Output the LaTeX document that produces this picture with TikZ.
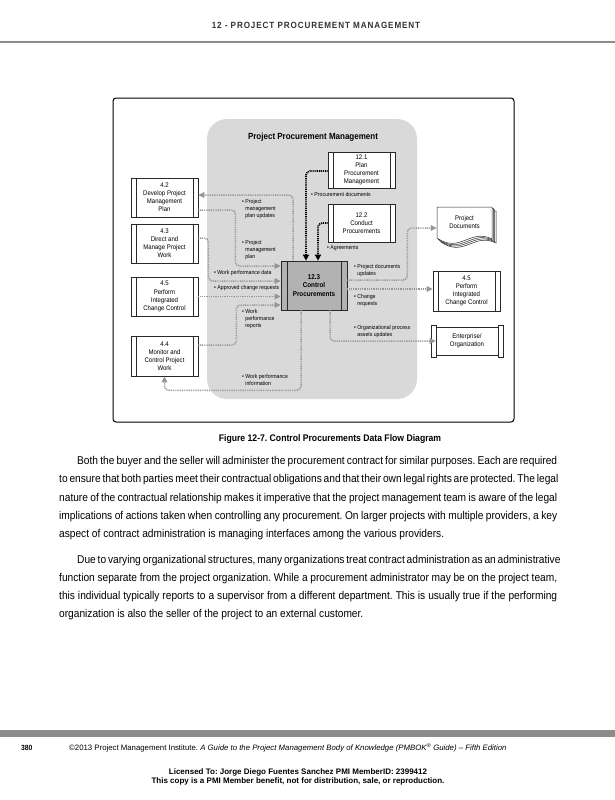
\documentclass[tikz,border=0pt]{standalone}
\usepackage{fontspec}
\setmainfont{Liberation Sans}[FakeStretch=0.9]
\newfontfamily\arialfont{Liberation Sans}
\usetikzlibrary{arrows.meta}
\definecolor{regionfill}{RGB}{217,217,217}
\definecolor{corefill}{RGB}{178,178,178}
\definecolor{flowgray}{RGB}{150,150,150}
\definecolor{boxline}{RGB}{40,40,40}
\definecolor{hdrgray}{RGB}{50,50,50}
\definecolor{bandgray}{RGB}{140,140,140}
\frenchspacing
\begin{document}
\begin{tikzpicture}[x=1pt,y=-1pt,
  sidegap/.store in=\sidegap, sidegap=5pt,
  procbox/.style={draw=boxline, line width=0.7pt, fill=white, minimum width=67pt,
    minimum height=39pt, inner sep=0pt, align=center, font=\fontsize{6.7}{8.1}\selectfont,
    path picture={\draw[boxline, line width=0.5pt]
      ([xshift=\sidegap]path picture bounding box.north west) -- ([xshift=\sidegap]path picture bounding box.south west)
      ([xshift=-\sidegap]path picture bounding box.north east) -- ([xshift=-\sidegap]path picture bounding box.south east);}},
  flowg/.style={draw=flowgray, line width=1.5pt, dash pattern=on 0.9pt off 0.9pt,
    rounded corners=4pt, -{Triangle[length=6pt,width=5.5pt]}},
  flowk/.style={draw=black, line width=1.7pt, dash pattern=on 1pt off 0.9pt,
    rounded corners=4pt, -{Triangle[length=6pt,width=6pt]}},
  lbl/.style={font=\fontsize{5.75}{7.3}\selectfont, align=left, inner sep=0pt, anchor=north west},
  pagepart/.style={boxline, line width=0.5pt, fill=white}
]
\useasboundingbox (0,0) rectangle (615,800);
\fill[white] (0,0) rectangle (615,800);

% header
\node[anchor=base, inner sep=0pt, text=hdrgray,
  font=\bfseries\fontsize{9}{11}\selectfont\addfontfeature{LetterSpace=10}] (hdr) at (316,28.5)
  {12 - PROJECT PROCUREMENT MANAGEMENT};
\fill[bandgray] (0,41) rectangle (615,43.5);

% frame and region
\draw[line width=1pt, rounded corners=3pt] (113,98) rectangle (514,422);
\fill[regionfill, rounded corners=20pt] (207,119) rectangle (417,399);
\node[font=\bfseries\fontsize{8.9}{10}\selectfont, inner sep=0pt] (ttl) at (313,137) {Project Procurement Management};

% process boxes
\node[procbox] (b42) at (164.5,197.5) {4.2\\Develop Project\\Management\\Plan};
\node[procbox] (b43) at (164.5,243.5) {4.3\\Direct and\\Manage Project\\Work};
\node[procbox] (b45l) at (164.5,296.5) {4.5\\Perform\\Integrated\\Change Control};
\node[procbox, minimum height=40pt] (b44) at (164.5,356) {4.4\\Monitor and\\Control Project\\Work};
\node[procbox, minimum height=36pt, font=\fontsize{6.7}{7.9}\selectfont] (b121) at (361.5,170) {12.1\\Plan\\Procurement\\Management};
\node[procbox, minimum height=38pt] (b122) at (361.5,223) {12.2\\Conduct\\Procurements};
\node[procbox, sidegap=6pt, fill=corefill, minimum width=66pt, minimum height=49pt,
  font=\bfseries\fontsize{7}{8.2}\selectfont] (b123) at (314,285.5) {12.3\\Control\\Procurements};
\node[procbox, minimum height=40pt] (b45r) at (466.5,291) {4.5\\Perform\\Integrated\\Change Control};

% project documents (stack of pages)
\foreach \o in {4,2.7,1.4,0} {
  \draw[pagepart, shift={(\o,\o)}] (437,207) -- (492,207) -- (492,239)
    .. controls (470,228) and (460,254) .. (437,238) -- cycle;
}
\node[font=\fontsize{6.7}{8.1}\selectfont, align=center, minimum width=55pt,
  minimum height=31pt, inner sep=0pt] (docs) at (464.5,222.5) {Project\\Documents};

% enterprise / organization
\draw[pagepart, line width=0.6pt] (431,325) rectangle (436,357);
\draw[pagepart, line width=0.6pt] (498,325) rectangle (503,357);
\node[draw=boxline, line width=0.6pt, fill=white, minimum width=62pt, minimum height=28pt,
  inner sep=0pt, align=center, font=\fontsize{6.7}{8.1}\selectfont] (ent) at (467,341)
  {Enterprise/\\Organization};

% connectors
\draw[flowg] ([xshift=-21pt]b123.north) |- ([yshift=2.5pt]b42.east);
\draw[flowg] ([yshift=-12.5pt]b42.east) -- ++(37,0) |- ([yshift=19.5pt]b123.west);
\draw[flowg] ([yshift=5.5pt]b43.east) -- ++(10,0) |- ([yshift=4.5pt]b123.west);
\draw[flowg] (b45l.east) -- (b45l.east -| b123.west);
\draw[flowg] ([yshift=11pt]b44.east) -- ++(38,0) |- ([yshift=-19.5pt]b123.west);
\draw[flowg] ([xshift=-13pt]b123.south) -- ++(0,80) -| (b44.south);
\draw[flowk] ([yshift=-1pt]b121.west) -| ([xshift=-8pt]b123.north);
\draw[flowk] (b122.west) -| ([xshift=4pt]b123.north);
\draw[flowg] ([yshift=5.5pt]b123.east) -- ++(60,0) |- ([yshift=-5.5pt]docs.west);
\draw[flowg] ([yshift=-3.5pt]b123.east) -- ([yshift=-3.5pt]b123.east -| b45r.west);
\draw[flowg] ([xshift=16pt]b123.south) |- (ent.west);

% labels
\node[lbl] (l1) at (242,199) {\textbullet\ Project\\\hphantom{\textbullet\ }management\\\hphantom{\textbullet\ }plan updates};
\node[lbl] (l2) at (242,240) {\textbullet\ Project\\\hphantom{\textbullet\ }management\\\hphantom{\textbullet\ }plan};
\node[lbl] (l3) at (214,270) {\textbullet\ Work performance data};
\node[lbl] (l4) at (214,285) {\textbullet\ Approved change requests};
\node[lbl] (l5) at (242,309) {\textbullet\ Work\\\hphantom{\textbullet\ }performance\\\hphantom{\textbullet\ }reports};
\node[lbl] (l6) at (242,374) {\textbullet\ Work performance\\\hphantom{\textbullet\ }information};
\node[lbl] (l7) at (311,192) {\textbullet\ Procurement documents};
\node[lbl] (l8) at (327,245) {\textbullet\ Agreements};
\node[lbl] (l9) at (354,264) {\textbullet\ Project documents\\\hphantom{\textbullet\ }updates};
\node[lbl] (l10) at (354,294) {\textbullet\ Change\\\hphantom{\textbullet\ }requests};
\node[lbl] (l11) at (354,325) {\textbullet\ Organizational process\\\hphantom{\textbullet\ }assets updates};

% caption and body text
\node[anchor=base, inner sep=0pt, font=\bfseries\fontsize{9.6}{12}\selectfont] (cap) at (330,441.5)
  {Figure 12-7. Control Procurements Data Flow Diagram};
\node[anchor=base west, inner sep=0pt, font=\fontsize{11.3}{18.25}\selectfont] (para1) at (59,464.5)
  {\vtop{\baselineskip=18.25pt
   \hbox to 498pt{\hspace*{18pt}Both the buyer and the seller will administer the procurement contract for similar purposes. Each are required}
   \hbox to 498pt{to ensure that both parties meet their contractual obligations and that their own legal rights are protected. The legal}
   \hbox to 498pt{nature of the contractual relationship makes it imperative that the project management team is aware of the legal}
   \hbox to 498pt{implications of actions taken when controlling any procurement. On larger projects with multiple providers, a key}
   \hbox{aspect of contract administration is managing interfaces among the various providers.}}};
\node[anchor=base west, inner sep=0pt, font=\fontsize{11.3}{18}\selectfont] (para2) at (59,563.5)
  {\vtop{\baselineskip=18pt
   \hbox to 498pt{\hspace*{18pt}Due to varying organizational structures, many organizations treat contract administration as an administrative}
   \hbox to 498pt{function separate from the project organization. While a procurement administrator may be on the project team,}
   \hbox to 498pt{this individual typically reports to a supervisor from a different department. This is usually true if the performing}
   \hbox{organization is also the seller of the project to an external customer.}}};

% footer
\fill[bandgray] (0,730) rectangle (615,737);
\node[anchor=base west, inner sep=0pt, font=\bfseries\fontsize{7.5}{9}\selectfont] (pgno) at (21,750) {380};
\node[anchor=base west, inner sep=0pt, font=\arialfont\fontsize{7.8}{9}\selectfont] (copy) at (69,750)
  {\textcopyright2013 Project Management Institute. \textit{A Guide to the Project Management Body of Knowledge (PMBOK\textsuperscript{\textregistered} Guide) – Fifth Edition}};
\node[anchor=base, inner sep=0pt, align=center, font=\arialfont\bfseries\fontsize{8}{7}\selectfont] (lic) at (298,783)
  {Licensed To: Jorge Diego Fuentes Sanchez PMI MemberID: 2399412\\This copy is a PMI Member benefit, not for distribution, sale, or reproduction.};
\end{tikzpicture}
\end{document}
